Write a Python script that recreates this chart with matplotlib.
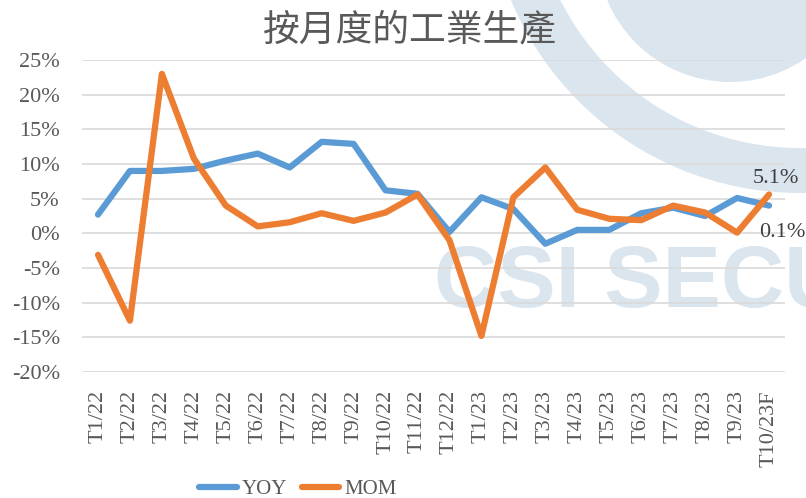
import matplotlib
matplotlib.use("Agg")
import matplotlib.pyplot as plt
from matplotlib.patches import Circle, Wedge
from matplotlib.ticker import FuncFormatter

months = ["T1/22", "T2/22", "T3/22", "T4/22", "T5/22", "T6/22", "T7/22", "T8/22",
          "T9/22", "T10/22", "T11/22", "T12/22", "T1/23", "T2/23", "T3/23", "T4/23",
          "T5/23", "T6/23", "T7/23", "T8/23", "T9/23", "T10/23F"]
yoy = [2.7, 9.0, 9.0, 9.3, 10.5, 11.5, 9.5, 13.2, 12.9, 6.2, 5.7, 0.2,
       5.2, 3.5, -1.5, 0.5, 0.5, 2.9, 3.7, 2.5, 5.1, 4.0]
mom = [-3.1, -12.6, 23.0, 10.8, 4.0, 1.0, 1.6, 2.9, 1.8, 3.0, 5.6, -1.0,
       -14.8, 5.2, 9.5, 3.4, 2.1, 1.9, 4.0, 3.0, 0.1, 5.6]
title = "按月度的工業生產"

plt.rcParams['font.family'] = ['Liberation Serif', 'Noto Sans CJK TC']

W, H = 806, 498
fig = plt.figure(figsize=(W / 100, H / 100), dpi=100)

# watermark layer, in pixel coords
bg = fig.add_axes([0, 0, 1, 1], zorder=0)
bg.set_xlim(0, W)
bg.set_ylim(H, 0)
bg.axis("off")
wm = "#dbe5ee"
bg.add_patch(Wedge((800, -120), 313, 0, 360, width=45, color=wm, lw=0))
bg.add_patch(Circle((730, -51), 133, color=wm, lw=0))
bg.text(434, 307, "CSI SECU", family="Liberation Sans", weight="bold",
        fontsize=63, color=wm, ha="left", va="baseline", clip_on=True)

ax = fig.add_axes([82 / W, 1 - 372 / H, (785 - 82) / W, (372 - 60) / H], zorder=1)
ax.patch.set_visible(False)

x = range(len(months))
ax.plot(x, yoy, color="#5b9bd5", lw=4.5, solid_joinstyle="round",
        solid_capstyle="round", label="YOY", zorder=3)
ax.plot(x, mom, color="#ed7d31", lw=4.5, solid_joinstyle="round",
        solid_capstyle="round", label="MOM", zorder=4)

ax.set_xlim(-0.5, len(months) - 0.5)
ax.set_ylim(-20, 25)
ax.set_yticks(range(-20, 26, 5))
ax.yaxis.set_major_formatter(FuncFormatter(lambda v, p: f"{v:.0f}%"))
ax.set_xticks(list(x))
ax.set_xticklabels(months, rotation=90)
ax.tick_params(axis="both", length=0, labelsize=16, labelcolor="#595959")
ax.tick_params(axis="y", pad=16)
ax.tick_params(axis="x", pad=13)
ax.grid(axis="y", color="#d9d9d9", lw=1.2)
ax.set_axisbelow(True)
for s in ax.spines.values():
    s.set_visible(False)

# data labels for T9/23
i = len(months) - 2
ax.annotate(f"{yoy[i]:.1f}%", (i, yoy[i]), xytext=(11, 14), textcoords="offset points",
            ha="left", va="center", fontsize=16, color="#404040")
ax.annotate(f"{mom[i]:.1f}%", (i, mom[i]), xytext=(16, 0), textcoords="offset points",
            ha="left", va="center", fontsize=16, color="#404040")

fig.text(410 / W, 1 - 30 / H, title, family=["Noto Sans CJK TC"], fontsize=26.5,
         color="#595959", ha="center", va="center")

fig.legend(loc="center", bbox_to_anchor=(298 / W, 1 - 489 / H), ncol=2, frameon=False,
           fontsize=15, handlelength=1.8, handletextpad=0.25, columnspacing=0.7,
           labelcolor="#595959")

fig.savefig("out.png", dpi=100)
